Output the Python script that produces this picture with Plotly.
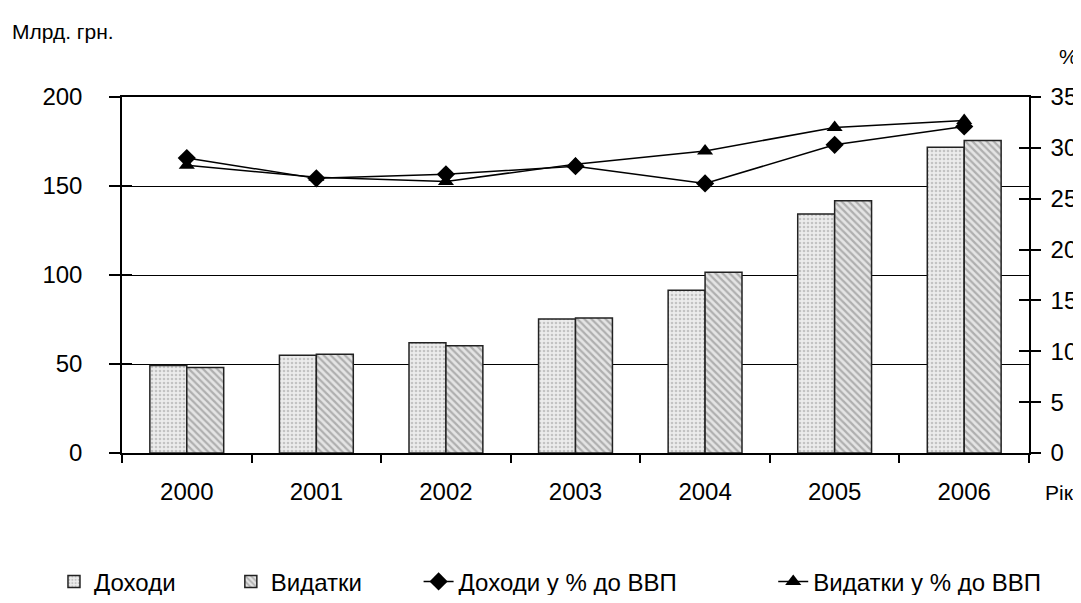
import plotly.graph_objects as go

years = ["2000", "2001", "2002", "2003", "2004", "2005", "2006"]
revenue = [49.1, 54.9, 61.9, 75.3, 91.5, 134.2, 171.8]
spending = [48.1, 55.5, 60.3, 75.8, 101.5, 141.7, 175.5]
revenue_pct = [29.0, 27.0, 27.4, 28.2, 26.5, 30.3, 32.1]
spending_pct = [28.3, 27.1, 26.7, 28.4, 29.7, 32.0, 32.7]
left_ticks = [0, 50, 100, 150, 200]
right_ticks = [0, 5, 10, 15, 20, 25, 30, 35]

FONT = "Liberation Sans, Arial, sans-serif"
FS = 24

fig = go.Figure()
fig.add_trace(go.Bar(
    x=years, y=revenue, name="Доходи", legend="legend",
    marker=dict(color="#ececec", line=dict(color="#222222", width=1.5),
                pattern=dict(shape=".", fgcolor="#9a9a9a", bgcolor="#ececec", size=4, solidity=0.35)),
))
fig.add_trace(go.Bar(
    x=years, y=spending, name="Видатки", legend="legend2",
    marker=dict(color="#d0d0d0", line=dict(color="#222222", width=1.5),
                pattern=dict(shape="\\", fgcolor="#7a7a7a", bgcolor="#e4e4e4", size=5, solidity=0.45)),
))
fig.add_trace(go.Scatter(
    x=years, y=revenue_pct, name="Доходи у % до ВВП", yaxis="y2", legend="legend3",
    mode="lines+markers", line=dict(color="black", width=1.5),
    marker=dict(symbol="diamond", size=14, color="black"),
))
fig.add_trace(go.Scatter(
    x=years, y=spending_pct, name="Видатки у % до ВВП", yaxis="y2", legend="legend4",
    mode="lines+markers", line=dict(color="black", width=1.5),
    marker=dict(symbol="triangle-up", size=14, color="black"),
))
# invisible helper traces so the inner tick axes get drawn
fig.add_trace(go.Scatter(x=years, y=[None] * len(years), yaxis="y3", showlegend=False,
                         hoverinfo="skip", mode="lines"))
fig.add_trace(go.Scatter(x=years, y=[None] * len(years), yaxis="y4", showlegend=False,
                         hoverinfo="skip", mode="lines"))

axis_font = dict(family=FONT, size=FS, color="black")
leg_common = dict(orientation="h", y=-0.362, yanchor="middle", xanchor="left",
                  font=dict(family=FONT, size=FS), bgcolor="rgba(0,0,0,0)")
fig.update_layout(
    width=1073, height=587,
    margin=dict(l=114, r=52, t=89, b=142, autoexpand=False),
    paper_bgcolor="white", plot_bgcolor="white",
    font=dict(family=FONT, size=FS, color="black"),
    barmode="group", bargap=0.43, bargroupgap=0,
    showlegend=True,
    xaxis=dict(type="category", tickson="boundaries", ticks="outside", ticklen=8,
               tickcolor="black", tickwidth=1.5, showline=True, mirror=True, linecolor="black",
               linewidth=1.5, showgrid=False, tickfont=axis_font, ticklabelstandoff=16,
               automargin=False),
    yaxis=dict(range=[0, 200], tickvals=left_ticks, ticks="outside", ticklen=11,
               tickcolor="black", tickwidth=1.5, showline=True, linecolor="black",
               linewidth=1.5, showgrid=True, gridcolor="black", gridwidth=1.3,
               zeroline=False, tickfont=axis_font, ticklabelstandoff=22, automargin=False),
    yaxis2=dict(range=[0, 35], tickvals=right_ticks, overlaying="y", side="right",
                ticks="outside", ticklen=10, tickcolor="black", tickwidth=1.5,
                showline=True, linecolor="black", linewidth=1.5, showgrid=False,
                zeroline=False, tickfont=axis_font, ticklabelstandoff=5, automargin=False),
    yaxis3=dict(range=[0, 200], tickvals=left_ticks, overlaying="y", side="left", anchor="x",
                ticks="inside", ticklen=10, tickcolor="black", tickwidth=1.5,
                showticklabels=False, showgrid=False, showline=False, zeroline=False,
                automargin=False),
    yaxis4=dict(range=[0, 35], tickvals=right_ticks, overlaying="y", side="right", anchor="x",
                ticks="inside", ticklen=10, tickcolor="black", tickwidth=1.5,
                showticklabels=False, showgrid=False, showline=False, zeroline=False,
                automargin=False),
    legend=dict(x=-0.075, **leg_common),
    legend2=dict(x=0.120, **leg_common),
    legend3=dict(x=0.327, **leg_common),
    legend4=dict(x=0.718, **leg_common),
    annotations=[
        dict(text="Млрд. грн.", xref="paper", yref="paper", x=-0.124, y=1.183,
             xanchor="left", yanchor="middle", showarrow=False, font=dict(family=FONT, size=21)),
        dict(text="%", xref="paper", yref="paper", x=1.043, y=1.115,
             xanchor="center", yanchor="middle", showarrow=False, font=dict(family=FONT, size=21)),
        dict(text="Рік", xref="paper", yref="paper", x=1.034, y=-0.11,
             xanchor="center", yanchor="middle", showarrow=False, font=dict(family=FONT, size=21)),
    ],
)

fig.write_html("out.html")
